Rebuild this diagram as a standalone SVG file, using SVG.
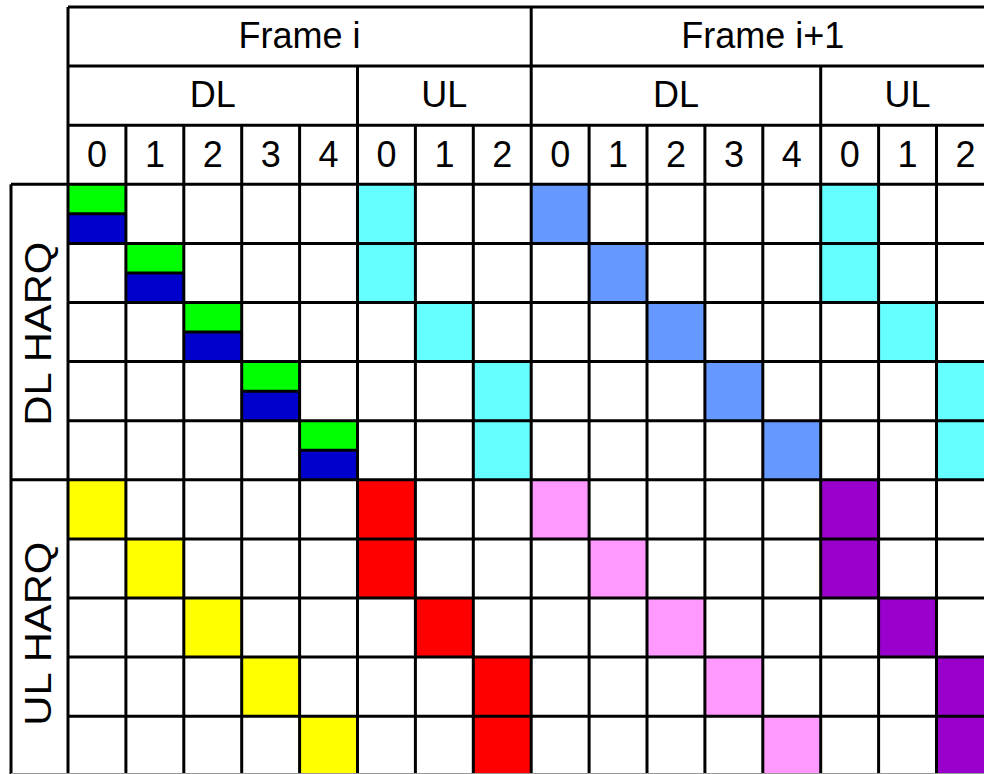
<svg xmlns="http://www.w3.org/2000/svg" width="984" height="774" viewBox="0 0 984 774">
<style>
.t{font-family:"Liberation Sans",Arial,sans-serif;font-size:36px;fill:#000;text-anchor:middle}
.v{font-size:37.5px}
.g{stroke:#000;stroke-width:3;fill:none}
.gr{fill:#00ff00}.bl{fill:#0000cc}.cy{fill:#66ffff}.mb{fill:#6699ff}
.ye{fill:#ffff00}.rd{fill:#ff0000}.pk{fill:#ff99ff}.pu{fill:#9900cc}
</style>
<rect width="984" height="774" fill="#fff"/>
<g id="cells">
<g id="dl-harq-cells">
<rect class="gr" x="68" y="184.3" width="57.9" height="29.55"/><rect class="bl" x="68" y="213.85" width="57.9" height="29.55"/>
<rect class="gr" x="125.9" y="243.4" width="57.9" height="29.55"/><rect class="bl" x="125.9" y="272.95" width="57.9" height="29.55"/>
<rect class="gr" x="183.8" y="302.5" width="57.9" height="29.55"/><rect class="bl" x="183.8" y="332.05" width="57.9" height="29.55"/>
<rect class="gr" x="241.7" y="361.6" width="57.9" height="29.55"/><rect class="bl" x="241.7" y="391.15" width="57.9" height="29.55"/>
<rect class="gr" x="299.6" y="420.7" width="57.9" height="29.55"/><rect class="bl" x="299.6" y="450.25" width="57.9" height="29.55"/>
<rect class="cy" x="357.5" y="184.3" width="57.9" height="59.1"/>
<rect class="cy" x="357.5" y="243.4" width="57.9" height="59.1"/>
<rect class="cy" x="415.4" y="302.5" width="57.9" height="59.1"/>
<rect class="cy" x="473.3" y="361.6" width="57.9" height="59.1"/>
<rect class="cy" x="473.3" y="420.7" width="57.9" height="59.1"/>
<rect class="mb" x="531.2" y="184.3" width="57.9" height="59.1"/>
<rect class="mb" x="589.1" y="243.4" width="57.9" height="59.1"/>
<rect class="mb" x="647" y="302.5" width="57.9" height="59.1"/>
<rect class="mb" x="704.9" y="361.6" width="57.9" height="59.1"/>
<rect class="mb" x="762.8" y="420.7" width="57.9" height="59.1"/>
<rect class="cy" x="820.7" y="184.3" width="57.9" height="59.1"/>
<rect class="cy" x="820.7" y="243.4" width="57.9" height="59.1"/>
<rect class="cy" x="878.6" y="302.5" width="57.9" height="59.1"/>
<rect class="cy" x="936.5" y="361.6" width="57.9" height="59.1"/>
<rect class="cy" x="936.5" y="420.7" width="57.9" height="59.1"/>
</g>
<g id="ul-harq-cells">
<rect class="ye" x="68" y="479.8" width="57.9" height="59.1"/>
<rect class="ye" x="125.9" y="538.9" width="57.9" height="59.1"/>
<rect class="ye" x="183.8" y="598" width="57.9" height="59.1"/>
<rect class="ye" x="241.7" y="657.1" width="57.9" height="59.1"/>
<rect class="ye" x="299.6" y="716.2" width="57.9" height="59.1"/>
<rect class="rd" x="357.5" y="479.8" width="57.9" height="59.1"/>
<rect class="rd" x="357.5" y="538.9" width="57.9" height="59.1"/>
<rect class="rd" x="415.4" y="598" width="57.9" height="59.1"/>
<rect class="rd" x="473.3" y="657.1" width="57.9" height="59.1"/>
<rect class="rd" x="473.3" y="716.2" width="57.9" height="59.1"/>
<rect class="pk" x="531.2" y="479.8" width="57.9" height="59.1"/>
<rect class="pk" x="589.1" y="538.9" width="57.9" height="59.1"/>
<rect class="pk" x="647" y="598" width="57.9" height="59.1"/>
<rect class="pk" x="704.9" y="657.1" width="57.9" height="59.1"/>
<rect class="pk" x="762.8" y="716.2" width="57.9" height="59.1"/>
<rect class="pu" x="820.7" y="479.8" width="57.9" height="59.1"/>
<rect class="pu" x="820.7" y="538.9" width="57.9" height="59.1"/>
<rect class="pu" x="878.6" y="598" width="57.9" height="59.1"/>
<rect class="pu" x="936.5" y="657.1" width="57.9" height="59.1"/>
<rect class="pu" x="936.5" y="716.2" width="57.9" height="59.1"/>
</g>
</g>
<g id="grid" class="g">
<path d="M68 7H984M68 66.1H984M68 125.2H984M11 184.3H984M68 243.4H984M68 302.5H984M68 361.6H984M68 420.7H984M11 479.8H984M68 538.9H984M68 598H984M68 657.1H984M68 716.2H984"/>
<path d="M68 213.85H125.9M125.9 272.95H183.8M183.8 332.05H241.7M241.7 391.15H299.6M299.6 450.25H357.5"/>
<path d="M11 184.3V774M68 7V774M531.2 7V774M357.5 66.1V774M820.7 66.1V774"/>
<path d="M125.9 125.2V774M183.8 125.2V774M241.7 125.2V774M299.6 125.2V774M415.4 125.2V774M473.3 125.2V774M589.1 125.2V774M647 125.2V774M704.9 125.2V774M762.8 125.2V774M878.6 125.2V774M936.5 125.2V774"/>
</g>
<path d="M11 773.5H984" stroke="#999" stroke-width="1"/>
<g id="labels">
<text class="t" x="299.6" y="48">Frame i</text>
<text class="t" x="762.8" y="48">Frame i+1</text>
<text class="t" x="212.75" y="107">DL</text>
<text class="t" x="444.35" y="107">UL</text>
<text class="t" x="675.95" y="107">DL</text>
<text class="t" x="907.5" y="107">UL</text>
<text class="t" x="97" y="167">0</text>
<text class="t" x="154.9" y="167">1</text>
<text class="t" x="212.8" y="167">2</text>
<text class="t" x="270.7" y="167">3</text>
<text class="t" x="328.6" y="167">4</text>
<text class="t" x="386.5" y="167">0</text>
<text class="t" x="444.4" y="167">1</text>
<text class="t" x="502.3" y="167">2</text>
<text class="t" x="560.2" y="167">0</text>
<text class="t" x="618.1" y="167">1</text>
<text class="t" x="676" y="167">2</text>
<text class="t" x="733.9" y="167">3</text>
<text class="t" x="791.8" y="167">4</text>
<text class="t" x="849.7" y="167">0</text>
<text class="t" x="907.6" y="167">1</text>
<text class="t" x="965.5" y="167">2</text>
<text class="t v" transform="translate(50.5 333.7) rotate(-90)" textLength="184" lengthAdjust="spacingAndGlyphs">DL HARQ</text>
<text class="t v" transform="translate(50.5 633.7) rotate(-90)" textLength="184" lengthAdjust="spacingAndGlyphs">UL HARQ</text>
</g>
</svg>
